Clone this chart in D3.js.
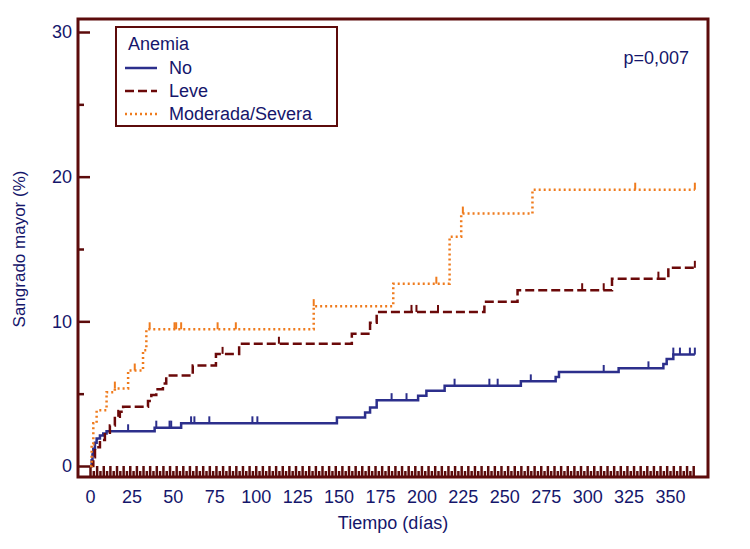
<!DOCTYPE html>
<html>
<head>
<meta charset="utf-8">
<script src="https://cdn.jsdelivr.net/npm/d3@7"></script>
<style>
  body { margin: 0; background: #fff; }
  svg text { font-family: "Liberation Sans", Arial, sans-serif; fill: #15166b; }
</style>
</head>
<body>
<div id="plot"></div>
<script>
// Kaplan-Meier style curves
var noDays   = [0, 1, 1.5, 2, 3, 4, 6, 8, 10, 39, 55, 149, 166, 169, 173, 198, 203, 214, 260, 281, 283, 319, 346, 348, 352, 365];
var noPct    = [0, 0.4, 0.8, 1.2, 1.6, 1.9, 2.1, 2.25, 2.4, 2.65, 2.95, 3.35, 3.7, 4.05, 4.55, 4.85, 5.2, 5.55, 5.85, 6.15, 6.5, 6.75, 7.05, 7.4, 7.7, 7.7];
var noCens   = [23, 40, 48, 49, 61, 63, 72, 98, 101, 182, 191, 220, 241, 246, 266, 310, 337, 352, 356, 362, 365];

var leveDays = [0, 2, 3, 6, 9, 12, 15, 18, 20, 35, 37, 40, 44, 46, 62, 76, 90, 158, 169, 173, 238, 258, 315, 349, 365];
var levePct  = [0, 0.6, 1.3, 1.8, 2.3, 2.8, 3.4, 3.75, 4.1, 4.5, 4.9, 5.3, 5.7, 6.25, 6.95, 7.75, 8.45, 9.15, 9.9, 10.65, 11.35, 12.15, 12.95, 13.7, 13.7];
var leveCens = [17, 80, 114, 194, 197, 210, 297, 310, 343, 365];

var modDays  = [0, 1, 2, 4, 10, 15, 23, 32, 34, 135, 183, 217, 224, 267, 365];
var modPct   = [0, 1.5, 2.95, 3.85, 5.1, 5.35, 6.6, 8.0, 9.45, 11.05, 12.6, 15.85, 17.45, 19.1, 19.1];
var modCens  = [15, 27, 36, 51, 52, 55, 77, 88, 135, 209, 225, 329, 365];

var groups = ["No", "Leve", "Moderada/Severa"];
var yMajor = [0, 10, 20, 30];
var yMinor = [5, 15, 25];
var xLabels = [0, 25, 50, 75, 100, 125, 150, 175, 200, 225, 250, 275, 300, 325, 350];

var series = [
  {name: groups[0], days: noDays, pct: noPct, cens: noCens, color: "#2c2f8c", dash: null},
  {name: groups[1], days: leveDays, pct: levePct, cens: leveCens, color: "#6b0909", dash: "9,4"},
  {name: groups[2], days: modDays, pct: modPct, cens: modCens, color: "#ef7b1d", dash: "2,3"}
];

var frameColor = "#5c0b0b";
var width = 750, height = 549;
var frame = {left: 78, top: 19, right: 708, bottom: 477};

var svg = d3.select("#plot").append("svg")
    .attr("width", width)
    .attr("height", height);

var xScale = d3.scaleLinear().domain([0, 350]).range([90, 670]);
var yScale = d3.scaleLinear().domain([0, 30]).range([466, 32]);

//Frame box
svg.append("rect")
    .attr("x", frame.left).attr("y", frame.top)
    .attr("width", frame.right - frame.left)
    .attr("height", frame.bottom - frame.top)
    .attr("fill", "none")
    .attr("stroke", frameColor)
    .attr("stroke-width", 3);

//Y ticks pointing inwards
function styleTicks(g) {
  g.select(".domain").remove();
  g.selectAll("line").attr("stroke", frameColor).attr("stroke-width", 2.5);
}
svg.append("g")
    .attr("transform", "translate(" + frame.left + ",0)")
    .call(d3.axisRight(yScale).tickValues(yMajor).tickSize(12).tickFormat(""))
    .call(styleTicks);
svg.append("g")
    .attr("transform", "translate(" + frame.left + ",0)")
    .call(d3.axisRight(yScale).tickValues(yMinor).tickSize(6).tickFormat(""))
    .call(styleTicks);
var yLab = svg.append("g")
    .attr("transform", "translate(" + frame.left + ",0)")
    .call(d3.axisLeft(yScale).tickValues(yMajor).tickSize(0).tickPadding(6));
yLab.select(".domain").remove();
yLab.selectAll("text").style("font-size", "18px").attr("fill", "#15166b");

//X ticks along the bottom (every 4 days, short ones in between)
svg.append("g")
    .attr("transform", "translate(0," + frame.bottom + ")")
    .call(d3.axisTop(xScale).tickValues(d3.range(0, 366, 4)).tickSize(11).tickFormat(""))
    .call(styleTicks);
svg.append("g")
    .attr("transform", "translate(0," + frame.bottom + ")")
    .call(d3.axisTop(xScale).tickValues(d3.range(2, 366, 4)).tickSize(6).tickFormat(""))
    .call(styleTicks);
var xLab = svg.append("g")
    .attr("transform", "translate(0," + frame.bottom + ")")
    .call(d3.axisBottom(xScale).tickValues(xLabels).tickSize(0).tickPadding(13));
xLab.select(".domain").remove();
xLab.selectAll("text").style("font-size", "18px").attr("fill", "#15166b");

//Axis titles
svg.append("text")
    .attr("x", 393).attr("y", 529)
    .style("text-anchor", "middle")
    .style("font-size", "18px")
    .text("Tiempo (días)");
svg.append("text")
    .attr("transform", "translate(25,249) rotate(-90)")
    .style("text-anchor", "middle")
    .style("font-size", "17px")
    .text("Sangrado mayor (%)");

//Curves
var line = d3.line()
    .x(function(d) { return xScale(d[0]); })
    .y(function(d) { return yScale(d[1]); })
    .curve(d3.curveStepAfter);

series.forEach(function(s) {
  var pts = s.days.map(function(d, i) { return [d, s.pct[i]]; });
  svg.append("path")
      .datum(pts)
      .attr("d", line)
      .attr("fill", "none")
      .attr("stroke", s.color)
      .attr("stroke-width", 2.5)
      .attr("stroke-dasharray", s.dash);

  //censoring marks
  var bis = d3.bisector(function(d) { return d; }).right;
  svg.selectAll(null)
      .data(s.cens)
    .enter().append("line")
      .attr("x1", function(d) { return xScale(d); })
      .attr("x2", function(d) { return xScale(d); })
      .attr("y1", function(d) { return yScale(s.pct[bis(s.days, d) - 1]); })
      .attr("y2", function(d) { return yScale(s.pct[bis(s.days, d) - 1]) - 7; })
      .attr("stroke", s.color)
      .attr("stroke-width", 2);
});

//Legend
var legend = svg.append("g");
legend.append("rect")
    .attr("x", 116).attr("y", 27)
    .attr("width", 221).attr("height", 99)
    .attr("fill", "#fff")
    .attr("stroke", frameColor)
    .attr("stroke-width", 2);
legend.append("text")
    .attr("x", 128).attr("y", 50)
    .style("font-size", "18px")
    .text("Anemia");
series.forEach(function(s, i) {
  var ly = 68 + i * 23;
  legend.append("line")
      .attr("x1", 125).attr("x2", 157)
      .attr("y1", ly).attr("y2", ly)
      .attr("stroke", s.color)
      .attr("stroke-width", 2.5)
      .attr("stroke-dasharray", s.dash);
  legend.append("text")
      .attr("x", 169).attr("y", ly + 6)
      .style("font-size", "18px")
      .text(s.name);
});

svg.append("text")
    .attr("x", 689).attr("y", 64)
    .style("text-anchor", "end")
    .style("font-size", "18px")
    .text("p=0,007");
</script>
</body>
</html>
